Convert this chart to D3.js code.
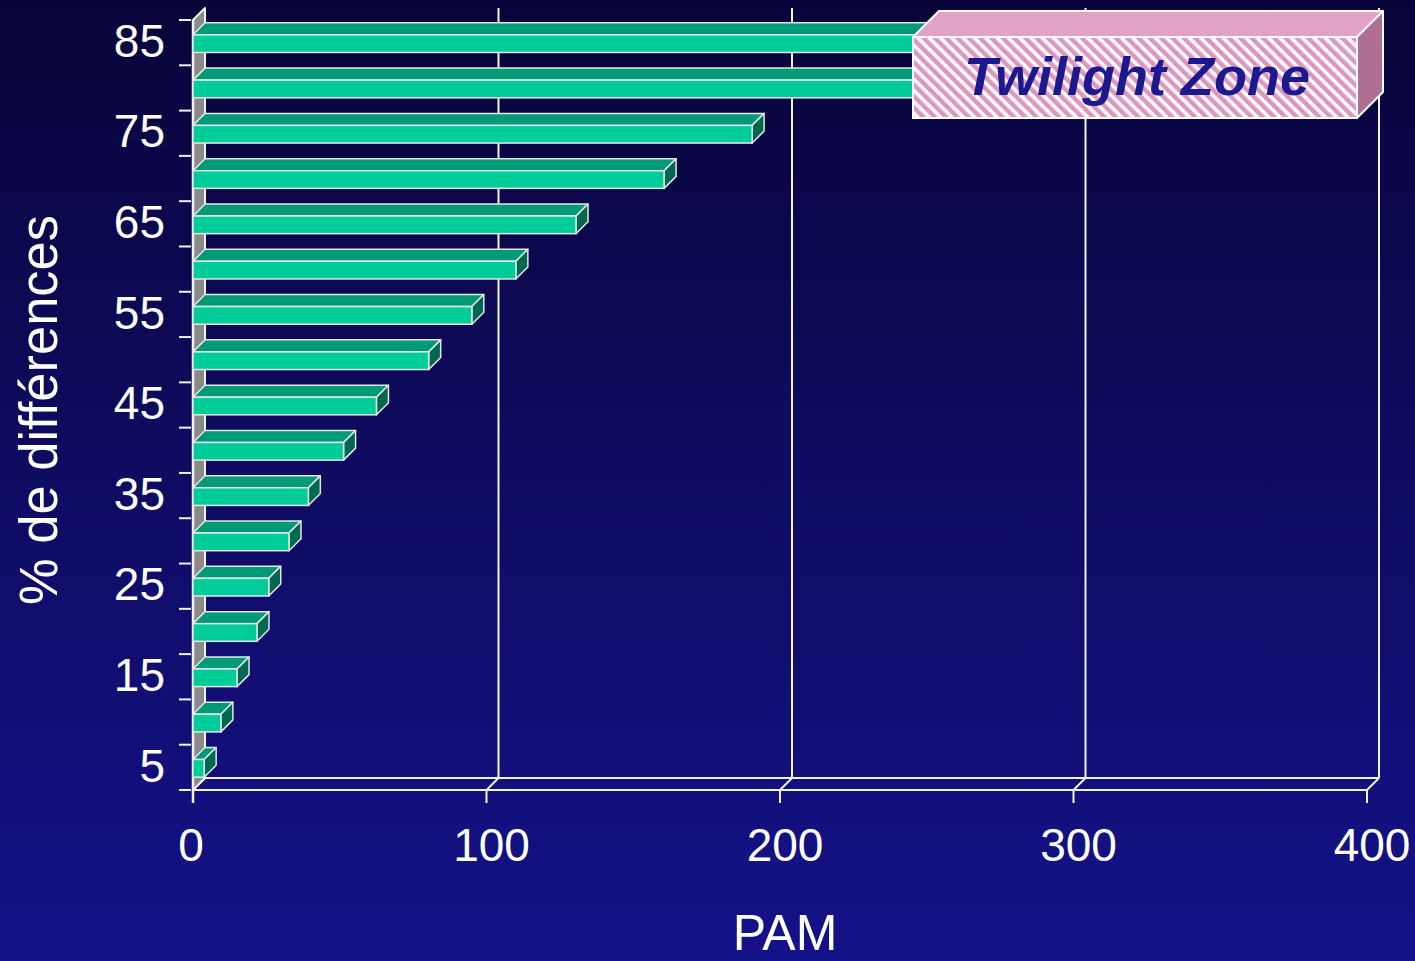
<!DOCTYPE html>
<html>
<head>
<meta charset="utf-8">
<script src="https://cdn.jsdelivr.net/npm/d3@7"></script>
<style>
  html, body { margin: 0; padding: 0; background: #0b0840; }
  svg { display: block; }
</style>
</head>
<body>
<svg id="chart" width="1415" height="961"></svg>
<script>
// % de différences (categories) and the PAM distance for each
const categories = [85, 80, 75, 70, 65, 60, 55, 50, 45, 40, 35, 30, 25, 20, 15, 10, 5];
const pamValues  = [330, 250, 190.5, 160.5, 130.5, 110, 95, 80.3, 62.5, 51.3, 39.3, 32.7, 25.8, 21.8, 15, 9.5, 3.8];
const xTicks = [0, 100, 200, 300, 400];
const yTickLabels = [85, 75, 65, 55, 45, 35, 25, 15, 5];
const xTitle = "PAM";
const yTitle = "% de différences";
const boxLabel = "Twilight Zone";

const W = 1415, H = 961;
const svg = d3.select("#chart");
const defs = svg.append("defs");

// background gradient
const bg = defs.append("linearGradient").attr("id", "bg")
  .attr("x1", 0).attr("y1", 0).attr("x2", 0).attr("y2", 1);
bg.append("stop").attr("offset", "0%").attr("stop-color", "#09053a");
bg.append("stop").attr("offset", "100%").attr("stop-color", "#15128a");
svg.append("rect").attr("width", W).attr("height", H).attr("fill", "url(#bg)");

// hatch for the label box
const hatch = defs.append("pattern").attr("id", "hatch")
  .attr("patternUnits", "userSpaceOnUse").attr("width", 8).attr("height", 8)
  .attr("patternTransform", "rotate(-45)");
hatch.append("rect").attr("width", 8).attr("height", 8).attr("fill", "#ffffff");
hatch.append("rect").attr("width", 4.5).attr("height", 8).attr("fill", "#dd96be");

// front plane scales, depth offset to the back plane
const x = d3.scaleLinear().domain([0, 400]).range([193, 1367]);
const y = d3.scaleBand().domain(categories).range([21, 791])
  .paddingInner(0.61).paddingOuter(0.305);
const DX = 12, DY = -12;
const top0 = 20, floorY = 790;

const line = "#f2f2f2";
const pt = (a, b) => a + "," + b;

// back wall gridlines
const g = svg.append("g");
g.selectAll("line.grid").data(xTicks.slice(1)).join("line")
  .attr("class", "grid")
  .attr("x1", d => x(d) + DX).attr("x2", d => x(d) + DX)
  .attr("y1", top0 + DY).attr("y2", floorY + DY)
  .attr("stroke", line).attr("stroke-width", 2);

// floor
g.append("line").attr("x1", x(0) + DX).attr("x2", x(400) + DX)
  .attr("y1", floorY + DY).attr("y2", floorY + DY)
  .attr("stroke", line).attr("stroke-width", 2);
g.append("line").attr("x1", x(0)).attr("x2", x(400))
  .attr("y1", floorY).attr("y2", floorY)
  .attr("stroke", line).attr("stroke-width", 2);
g.selectAll("line.diag").data(xTicks).join("line")
  .attr("class", "diag")
  .attr("x1", d => x(d)).attr("y1", floorY)
  .attr("x2", d => x(d) + DX).attr("y2", floorY + DY)
  .attr("stroke", line).attr("stroke-width", 2);
g.selectAll("line.xtick").data(xTicks).join("line")
  .attr("class", "xtick")
  .attr("x1", d => x(d)).attr("x2", d => x(d))
  .attr("y1", floorY).attr("y2", floorY + 13)
  .attr("stroke", line).attr("stroke-width", 2);

// left wall
g.append("polygon")
  .attr("points", [pt(x(0), top0), pt(x(0) + DX, top0 + DY), pt(x(0) + DX, floorY + DY), pt(x(0), floorY)].join(" "))
  .attr("fill", "#8a8a8a").attr("stroke", line).attr("stroke-width", 2)
  .attr("stroke-linejoin", "round");
g.append("line").attr("x1", x(0)).attr("x2", x(0)).attr("y1", top0).attr("y2", floorY + 13)
  .attr("stroke", line).attr("stroke-width", 2.5);

// left ticks at band boundaries
const step = y.step();
const bounds = d3.range(categories.length + 1).map(i => top0 + i * step);
g.selectAll("line.ytick").data(bounds).join("line")
  .attr("class", "ytick")
  .attr("x1", 179).attr("x2", 191)
  .attr("y1", d => d).attr("y2", d => d)
  .attr("stroke", line).attr("stroke-width", 2);

// bars
const bars = svg.append("g").selectAll("g.bar")
  .data(categories.map((c, i) => ({ c, v: pamValues[i] })))
  .join("g").attr("class", "bar");
const stroke = "#e6e6e6";
bars.append("polygon") // top face
  .attr("points", d => {
    const y0 = y(d.c), x0 = x(0), x1 = x(d.v);
    return [pt(x0, y0), pt(x0 + DX, y0 + DY), pt(x1 + DX, y0 + DY), pt(x1, y0)].join(" ");
  })
  .attr("fill", "#009a76").attr("stroke", stroke).attr("stroke-width", 1.5).attr("stroke-linejoin", "round");
bars.append("polygon") // end face
  .attr("points", d => {
    const y0 = y(d.c), y1 = y0 + y.bandwidth(), x1 = x(d.v);
    return [pt(x1, y0), pt(x1 + DX, y0 + DY), pt(x1 + DX, y1 + DY), pt(x1, y1)].join(" ");
  })
  .attr("fill", "#00684e").attr("stroke", stroke).attr("stroke-width", 1.5).attr("stroke-linejoin", "round");
bars.append("rect") // front face
  .attr("x", x(0)).attr("y", d => y(d.c))
  .attr("width", d => x(d.v) - x(0)).attr("height", y.bandwidth())
  .attr("fill", "#00cc9a").attr("stroke", stroke).attr("stroke-width", 1.5);

// axis labels
const font = "'Liberation Sans', Arial, Helvetica, sans-serif";
svg.append("g").selectAll("text.xl").data(xTicks).join("text")
  .attr("x", d => d === 0 ? x(d) - 2 : x(d) + 5).attr("y", 861)
  .attr("text-anchor", "middle").attr("font-family", font).attr("font-size", 46)
  .attr("fill", "#ffffff").text(d => d);
svg.append("g").selectAll("text.yl").data(yTickLabels).join("text")
  .attr("x", 165).attr("y", d => y(d) + y.bandwidth() / 2 + 1)
  .attr("text-anchor", "end").attr("dominant-baseline", "middle")
  .attr("font-family", font).attr("font-size", 46)
  .attr("fill", "#ffffff").text(d => d);
svg.append("text").attr("x", 785).attr("y", 950)
  .attr("text-anchor", "middle").attr("font-family", font).attr("font-size", 50)
  .attr("fill", "#ffffff").text(xTitle);
svg.append("text")
  .attr("transform", "translate(57,410) rotate(-90)")
  .attr("text-anchor", "middle").attr("font-family", font).attr("font-size", 54)
  .attr("textLength", 390).attr("lengthAdjust", "spacingAndGlyphs")
  .attr("fill", "#ffffff").text(yTitle);

// label box
const bx0 = 913, bx1 = 1357, by0 = 37, by1 = 118, BD = 26;
const box = svg.append("g");
box.append("polygon")
  .attr("points", [pt(bx0, by0), pt(bx0 + BD, by0 - BD), pt(bx1 + BD, by0 - BD), pt(bx1, by0)].join(" "))
  .attr("fill", "#e2a2c5").attr("stroke", "#ffffff").attr("stroke-width", 2).attr("stroke-linejoin", "round");
box.append("polygon")
  .attr("points", [pt(bx1, by0), pt(bx1 + BD, by0 - BD), pt(bx1 + BD, by1 - BD), pt(bx1, by1)].join(" "))
  .attr("fill", "#b07094").attr("stroke", "#ffffff").attr("stroke-width", 2).attr("stroke-linejoin", "round");
box.append("rect").attr("x", bx0).attr("y", by0).attr("width", bx1 - bx0).attr("height", by1 - by0)
  .attr("fill", "url(#hatch)").attr("stroke", "#ffffff").attr("stroke-width", 2);
box.append("text").attr("x", (bx0 + bx1) / 2 + 2).attr("y", 95)
  .attr("text-anchor", "middle").attr("font-family", font)
  .attr("font-size", 54).attr("font-weight", "bold").attr("font-style", "italic")
  .attr("fill", "#1b1890").text(boxLabel);
</script>
</body>
</html>
